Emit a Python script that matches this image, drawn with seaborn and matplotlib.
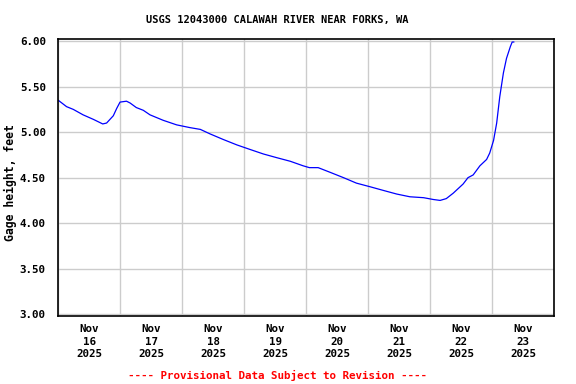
import pandas as pd
import matplotlib
matplotlib.use("Agg")
import matplotlib.pyplot as plt
import seaborn as sns

# hours after 2025-11-16 00:00 and gage height
hours = [0, 3.2, 5.8, 9.6, 13.6, 17.2, 18.7, 21.3, 22.6, 23.9, 26.4, 27.8,
         30.2, 32.9, 35.5, 40.6, 45.8, 50.9, 55, 58.8, 63.8, 69.1, 74.2,
         79.4, 84.5, 89.8, 94.8, 97.2, 100.6, 105.1, 110.4, 115.4, 120.7,
         125.8, 131, 136.1, 141.4, 145.2, 147.8, 150.2, 152.9, 156.7, 158.6,
         160.6, 163.2, 165.8, 167, 168.5, 169.7, 170.9, 172.3, 173.5, 175,
         175.7, 176.4]
gage = [5.35, 5.28, 5.25, 5.19, 5.14, 5.09, 5.10, 5.18, 5.26, 5.33, 5.34, 5.32,
        5.27, 5.24, 5.19, 5.13, 5.08, 5.05, 5.03, 4.98, 4.92, 4.86, 4.81,
        4.76, 4.72, 4.68, 4.63, 4.61, 4.61, 4.56, 4.50, 4.44, 4.40,
        4.36, 4.32, 4.29, 4.28, 4.26, 4.25, 4.27, 4.33, 4.43, 4.50,
        4.53, 4.63, 4.70, 4.77, 4.91, 5.10, 5.39, 5.65, 5.81, 5.94,
        5.99, 5.99]
days = ["16", "17", "18", "19", "20", "21", "22", "23"]
y_ticks = [3.0, 3.5, 4.0, 4.5, 5.0, 5.5, 6.0]

start = pd.Timestamp("2025-11-16 00:00")
df = pd.DataFrame({"time": start + pd.to_timedelta(hours, unit="h"),
                   "gage": gage})

sns.set_style("white")
plt.rcParams['font.family'] = ['DejaVu Sans Mono']
plt.rcParams['font.weight'] = 'bold'
plt.rcParams['text.color'] = 'black'
plt.rcParams['xtick.color'] = 'black'
plt.rcParams['ytick.color'] = 'black'
plt.rcParams['axes.labelcolor'] = 'black'

fig = plt.figure(figsize=(5.76, 3.84), dpi=100)
ax = fig.add_axes([0.1012, 0.177, 0.8611, 0.7207])

sns.lineplot(data=df, x="time", y="gage", color="#0000ff", linewidth=0.9, ax=ax)

# grid at each midnight, labels at noon
midnights = [start + pd.Timedelta(days=i) for i in range(9)]
noons = [start + pd.Timedelta(days=i, hours=12) for i in range(8)]
ax.set_xticks(midnights)
ax.set_xticks(noons, minor=True)
ax.set_xticklabels([])
ax.set_xticklabels([f"Nov\n{d}\n2025" for d in days], minor=True,
                   fontsize=7.8, fontweight="bold", linespacing=1.3)
ax.tick_params(axis="x", which="both", length=0, pad=6)
ax.set_xlim(start, start + pd.Timedelta(days=8))

ax.set_yticks(y_ticks)
ax.set_yticklabels([f"{v:.2f}" for v in y_ticks], fontsize=7.8, fontweight="bold")
ax.tick_params(axis="y", length=0, pad=9)
ax.set_ylim(2.98, 6.02)

ax.grid(True, which="major", color="#cccccc", linewidth=1)
ax.set_axisbelow(True)
for s in ax.spines.values():
    s.set_color("black")
    s.set_linewidth(1.2)

ax.set_xlabel("")
ax.set_ylabel("Gage height, feet", fontsize=8.3, fontweight="bold")
ax.yaxis.set_label_coords(-0.084, 0.484)

fig.text(0.481, 0.948, "USGS 12043000 CALAWAH RIVER NEAR FORKS, WA",
         ha="center", va="center", fontsize=7.5, fontweight="bold")
fig.text(0.481, 0.023, "---- Provisional Data Subject to Revision ----",
         ha="center", va="center", fontsize=7.8, fontweight="bold", color="red")

fig.savefig("out.png", dpi=100)
